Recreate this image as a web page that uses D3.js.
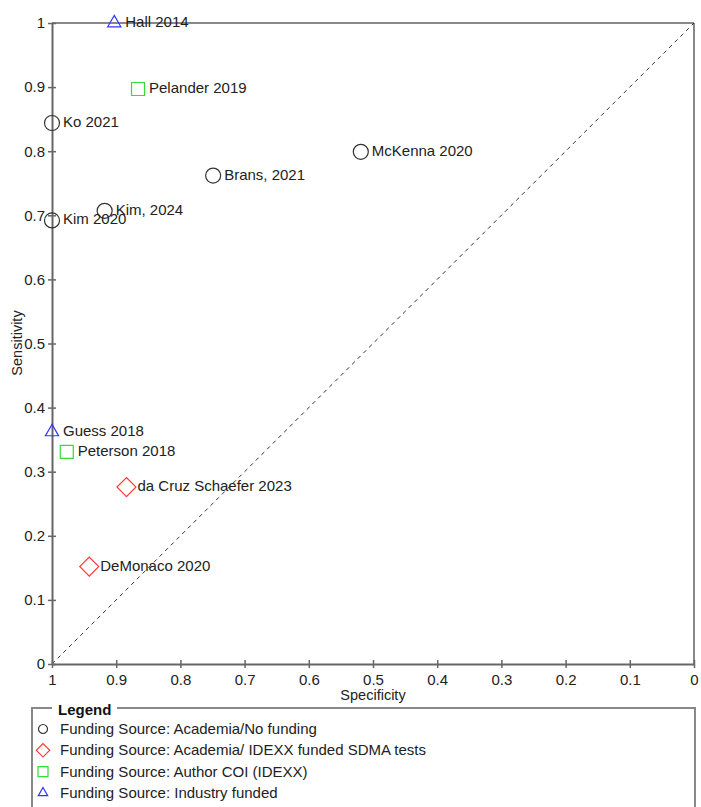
<!DOCTYPE html>
<html>
<head>
<meta charset="utf-8">
<script src="https://cdn.jsdelivr.net/npm/d3@7"></script>
<style>
  html, body { margin: 0; padding: 0; background: #fff; }
  svg { display: block; font-family: "Liberation Sans", Arial, sans-serif; }
</style>
</head>
<body>
<svg id="chart" width="701" height="807"></svg>
<script>
// ---- data ----
const studies = ["Hall 2014", "Pelander 2019", "Ko 2021", "McKenna 2020", "Brans, 2021", "Kim, 2024",
                 "Kim 2020", "Guess 2018", "Peterson 2018", "da Cruz Schaefer 2023", "DeMonaco 2020"];
const specificity = [0.903, 0.866, 1.0, 0.519, 0.749, 0.918, 1.0, 1.0, 0.977, 0.884, 0.942];
const sensitivity = [1.0, 0.897, 0.844, 0.799, 0.762, 0.707, 0.692, 0.362, 0.331, 0.276, 0.152];
const fundingGroup = [3, 2, 0, 0, 0, 0, 0, 3, 2, 1, 1];
const groupNames = ["Funding Source: Academia/No funding",
                    "Funding Source: Academia/ IDEXX funded SDMA tests",
                    "Funding Source: Author COI (IDEXX)",
                    "Funding Source: Industry funded"];
const xTicks = [1, 0.9, 0.8, 0.7, 0.6, 0.5, 0.4, 0.3, 0.2, 0.1, 0];
const yTicks = [0, 0.1, 0.2, 0.3, 0.4, 0.5, 0.6, 0.7, 0.8, 0.9, 1];

// ---- styles ----
const groupColors = ["#333333", "#ff3b3b", "#33dd33", "#3333ff"];
const groupShapes = ["circle", "diamond", "square", "triangle"];

const svg = d3.select("#chart");
const x = d3.scaleLinear().domain([1, 0]).range([52, 694]);
const y = d3.scaleLinear().domain([0, 1]).range([664, 23]);

function symbolPath(shape, big) {
  if (shape === "circle") return d3.symbol(d3.symbolCircle, big ? 177 : 64)();
  if (shape === "square") return d3.symbol(d3.symbolSquare, big ? 169 : 100)();
  if (shape === "diamond") return d3.symbol(d3.symbolSquare, big ? 180 : 90)();
  return d3.symbol(d3.symbolTriangle, big ? 75 : 38)();
}
function symbolTransform(shape, px, py) {
  return shape === "diamond" ? `translate(${px},${py}) rotate(45)` : `translate(${px},${py})`;
}

// frame (top and right)
svg.append("line").attr("x1", x(1)).attr("x2", x(0)).attr("y1", y(1)).attr("y2", y(1))
  .attr("stroke", "#888").attr("stroke-width", 2);
svg.append("line").attr("x1", x(0)).attr("x2", x(0)).attr("y1", y(1)).attr("y2", y(0))
  .attr("stroke", "#888").attr("stroke-width", 2);

// diagonal reference line
svg.append("line").attr("x1", x(1)).attr("y1", y(0)).attr("x2", x(0)).attr("y2", y(1))
  .attr("stroke", "#333").attr("stroke-width", 1).attr("stroke-dasharray", "4,4");

// axes
const xAxis = d3.axisBottom(x).tickValues(xTicks).tickFormat(d3.format("~g"))
  .tickSizeInner(4).tickSizeOuter(0).tickPadding(6);
const yAxis = d3.axisLeft(y).tickValues(yTicks).tickFormat(d3.format("~g"))
  .tickSizeInner(4).tickSizeOuter(0).tickPadding(3);

const gx = svg.append("g").attr("transform", `translate(0,${y(0)})`).call(xAxis);
const gy = svg.append("g").attr("transform", `translate(${x(1)},0)`).call(yAxis);
[gx, gy].forEach(g => {
  g.select(".domain").attr("stroke", "#666").attr("stroke-width", 2);
  g.selectAll(".tick line").attr("stroke", "#666").attr("stroke-width", 1.5);
  g.selectAll(".tick text").attr("fill", "#222").style("font-size", "15px")
    .style("font-family", "'Liberation Sans', Arial, sans-serif");
});
gx.selectAll(".tick line").attr("y1", -4);
gy.selectAll(".tick line").attr("x1", 4);

// axis titles
svg.append("text").attr("x", 373).attr("y", 700).attr("text-anchor", "middle")
  .attr("fill", "#222").style("font-size", "14.5px").text("Specificity");
svg.append("text").attr("transform", "translate(22,343) rotate(-90)").attr("text-anchor", "middle")
  .attr("fill", "#222").style("font-size", "14.5px").text("Sensitivity");

// points
const data = studies.map((s, i) => ({ name: s, spec: specificity[i], sens: sensitivity[i], g: fundingGroup[i] }));
const pts = svg.append("g");
pts.selectAll("path").data(data).join("path")
  .attr("d", d => symbolPath(groupShapes[d.g], true))
  .attr("transform", d => symbolTransform(groupShapes[d.g], x(d.spec), y(d.sens)))
  .attr("fill", "none").attr("stroke", d => groupColors[d.g]).attr("stroke-width", 1.2);
pts.selectAll("text").data(data).join("text")
  .attr("x", d => x(d.spec) + 11).attr("y", d => y(d.sens) + 4)
  .attr("fill", "#222").style("font-size", "15px").text(d => d.name);

// legend
const lg = svg.append("g");
lg.append("rect").attr("x", 32).attr("y", 708).attr("width", 663).attr("height", 130)
  .attr("fill", "none").attr("stroke", "#888").attr("stroke-width", 2);
lg.append("rect").attr("x", 52).attr("y", 700).attr("width", 65).attr("height", 16).attr("fill", "#fff");
lg.append("text").attr("x", 58).attr("y", 715).attr("fill", "#111").style("font-size", "15px")
  .style("font-weight", "bold").text("Legend");
groupNames.forEach((name, i) => {
  const cy = 729 + i * 21.3;
  lg.append("path").attr("d", symbolPath(groupShapes[i], false))
    .attr("transform", symbolTransform(groupShapes[i], 43, cy))
    .attr("fill", "none").attr("stroke", groupColors[i]).attr("stroke-width", 1.2);
  lg.append("text").attr("x", 60).attr("y", cy + 5).attr("fill", "#222")
    .style("font-size", "15px").text(name);
});
</script>
</body>
</html>
